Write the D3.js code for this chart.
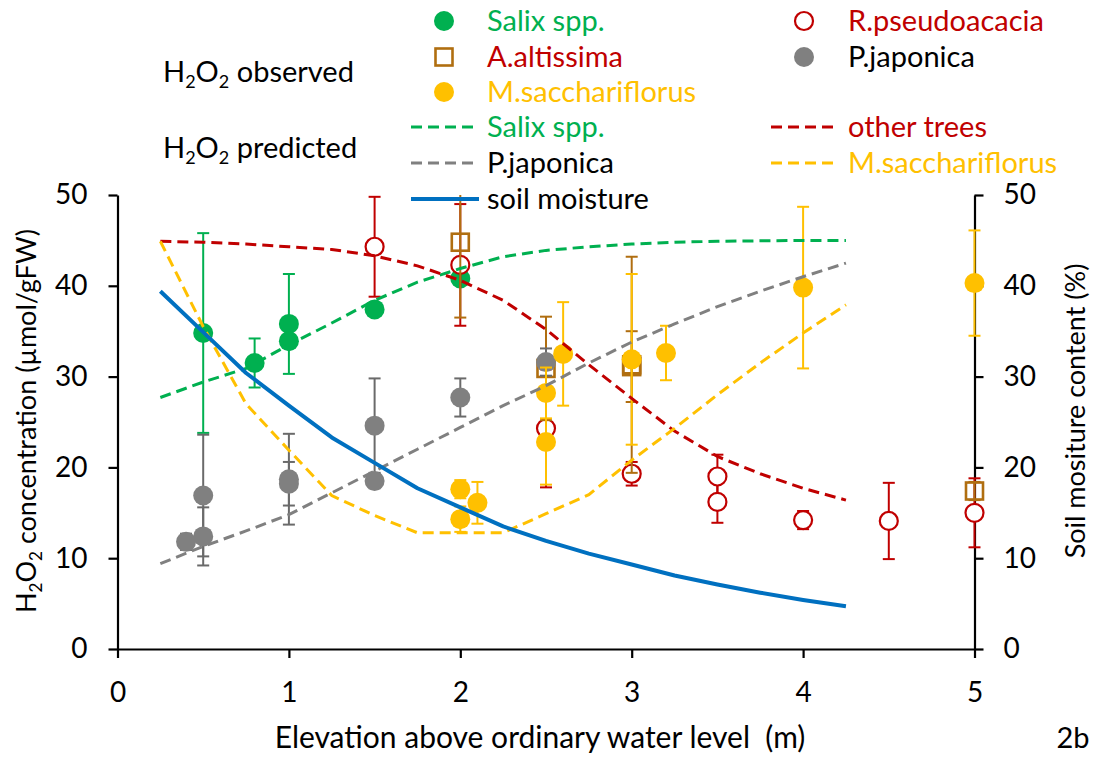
<!DOCTYPE html>
<html>
<head>
<meta charset="utf-8">
<script src="https://cdn.jsdelivr.net/npm/d3@7"></script>
<style>
  body { margin: 0; background: #fff; }
  svg { display: block; }
  text { font-family: Lato, "Open Sans", sans-serif; }
</style>
</head>
<body>
<svg id="chart" width="1097" height="765"></svg>
<script>
// ---- observed H2O2 (mean, error) by elevation ----
const salixX   = [0.5, 0.8, 1.0, 1.0, 1.5, 2.0];
const salixY   = [34.8, 31.5, 35.8, 33.9, 37.4, 40.8];
const salixErr = [11.0, 2.7, 5.5, 0.5, 0.6, 0.5];

const robiniaX   = [1.5, 2.0, 2.5, 3.0, 3.5, 3.5, 4.0, 4.5, 5.0];
const robiniaY   = [44.3, 42.3, 24.3, 19.3, 19.0, 16.2, 14.2, 14.1, 15.0];
const robiniaErr = [5.5, 6.7, 6.5, 1.3, 2.4, 2.3, 1.0, 4.2, 3.8];

const ailanthusX   = [2.0, 2.5, 3.0, 3.0, 5.0];
const ailanthusY   = [44.8, 30.9, 31.3, 31.1, 17.4];
const ailanthusErr = [8.3, 5.7, 11.9, 3.9, 1.0];

const japonicaX   = [0.4, 0.5, 0.5, 1.0, 1.0, 1.5, 1.5, 2.0, 2.5];
const japonicaY   = [11.8, 16.9, 12.4, 18.7, 18.2, 24.6, 18.5, 27.7, 31.6];
const japonicaErr = [0.9, 6.7, 3.2, 5.0, 2.4, 5.2, 0.8, 2.1, 1.5];

const miscanthusX   = [2.0, 2.0, 2.1, 2.5, 2.5, 2.6, 3.0, 3.2, 4.0, 5.0];
const miscanthusY   = [17.6, 14.3, 16.1, 28.2, 22.8, 32.5, 31.9, 32.6, 39.8, 40.3];
const miscanthusErr = [1.0, 1.4, 2.3, 2.8, 4.7, 5.7, 9.4, 3.0, 8.9, 5.8];

// ---- predicted H2O2 and soil moisture along the elevation gradient ----
const predX          = [0.25, 0.5, 0.75, 1.0, 1.25, 1.5, 1.75, 2.0, 2.25, 2.5, 2.75, 3.0, 3.25, 3.5, 3.75, 4.0, 4.25];
const salixPred      = [27.7, 29.4, 30.9, 33.5, 35.9, 38.4, 40.4, 41.9, 43.2, 43.9, 44.3, 44.6, 44.8, 44.9, 44.95, 45.0, 45.0];
const otherTreesPred = [44.9, 44.8, 44.6, 44.3, 44.0, 43.3, 42.2, 40.6, 38.4, 35.2, 31.3, 27.6, 24.0, 21.2, 19.3, 17.7, 16.4];
const japonicaPred   = [9.4, 11.3, 13.0, 14.8, 17.2, 19.6, 22.0, 24.4, 26.8, 29.0, 31.5, 33.8, 35.8, 37.7, 39.4, 41.0, 42.5];
const miscanthusPred = [44.9, 35.5, 27.0, 21.9, 16.9, 14.7, 12.8, 12.8, 12.8, 14.9, 17.0, 20.8, 24.3, 28.0, 31.5, 34.8, 37.9];
const soilMoisture   = [39.4, 34.9, 30.4, 26.8, 23.3, 20.5, 17.7, 15.6, 13.5, 11.9, 10.5, 9.3, 8.1, 7.1, 6.2, 5.4, 4.7];

const xTicks = [0, 1, 2, 3, 4, 5];
const yTicks = [0, 10, 20, 30, 40, 50];

const GREEN = "#00B050", RED = "#C00000", BROWN = "#B06E10",
      GRAY = "#808080", GRAY_BAR = "#6A6A6A", GOLD = "#FFC000", BLUE = "#0070C0";

const svg = d3.select("#chart");
const x = d3.scaleLinear().domain([0, 5]).range([117.5, 974.5]);
const y = d3.scaleLinear().domain([0, 50]).range([649, 195]);
const ySoil = d3.scaleLinear().domain([0, 50]).range([649, 195]);

// ---- axes ----
function styleAxis(g) {
  g.select(".domain").attr("stroke", "#000").attr("stroke-width", 2.2);
  g.selectAll(".tick line").attr("stroke", "#000").attr("stroke-width", 2.2);
  g.selectAll(".tick text").style("font-size", "28px").style("fill", "#000");
}
svg.append("g").attr("transform", "translate(117.5,0)")
  .call(d3.axisLeft(y).tickValues(yTicks).tickSize(9).tickSizeOuter(0).tickPadding(21))
  .call(styleAxis);
svg.append("g").attr("transform", "translate(974.5,0)")
  .call(d3.axisRight(ySoil).tickValues(yTicks).tickSize(9).tickSizeOuter(0).tickPadding(20))
  .call(styleAxis);
svg.append("g").attr("transform", "translate(0,649)")
  .call(d3.axisBottom(x).tickValues(xTicks).tickFormat(d3.format("d"))
    .tickSize(9).tickSizeOuter(0).tickPadding(24))
  .call(styleAxis);

// ---- axis titles ----
const leftTitle = svg.append("text")
  .attr("transform", "translate(36,421) rotate(-90)")
  .attr("text-anchor", "middle").style("font-size", "27px").style("fill", "#000");
leftTitle.append("tspan").text("H");
leftTitle.append("tspan").text("2").style("font-size", "17px").attr("dy", 6);
leftTitle.append("tspan").text("O").attr("dy", -6);
leftTitle.append("tspan").text("2").style("font-size", "17px").attr("dy", 6);
leftTitle.append("tspan").text(" concentration (\u00B5mol/gFW)").attr("dy", -6);

svg.append("text")
  .attr("transform", "translate(1085,411) rotate(-90)")
  .attr("text-anchor", "middle").style("font-size", "27px").style("fill", "#000")
  .text("Soil mositure content (%)");

svg.append("text").attr("x", 540).attr("y", 748).attr("text-anchor", "middle")
  .style("font-size", "30px").style("fill", "#000").style("white-space", "pre")
  .text("Elevation above ordinary water level  (m)");

svg.append("text").attr("x", 1073).attr("y", 748).attr("text-anchor", "middle")
  .style("font-size", "29px").style("fill", "#000").text("2b");

// ---- observed series with error bars ----
const plot = svg.append("g");

function errorBars(xs, ys, es, color) {
  const g = plot.append("g").attr("stroke", color).attr("stroke-width", 2);
  xs.forEach((xv, i) => {
    const top = Math.min(ys[i] + es[i], 50), bot = Math.max(ys[i] - es[i], 0);
    const cx = x(xv);
    g.append("line").attr("x1", cx).attr("x2", cx).attr("y1", y(top)).attr("y2", y(bot));
    if (ys[i] + es[i] <= 50)
      g.append("line").attr("x1", cx - 6).attr("x2", cx + 6).attr("y1", y(top)).attr("y2", y(top));
    g.append("line").attr("x1", cx - 6).attr("x2", cx + 6).attr("y1", y(bot)).attr("y2", y(bot));
  });
}
function filledCircles(xs, ys, color) {
  plot.append("g").selectAll("circle").data(xs).join("circle")
    .attr("cx", d => x(d)).attr("cy", (d, i) => y(ys[i])).attr("r", 10).attr("fill", color);
}
function openCircles(xs, ys, color) {
  plot.append("g").selectAll("circle").data(xs).join("circle")
    .attr("cx", d => x(d)).attr("cy", (d, i) => y(ys[i])).attr("r", 9)
    .attr("fill", "#fff").attr("stroke", color).attr("stroke-width", 2.2);
}
function openSquares(xs, ys, color) {
  plot.append("g").selectAll("rect").data(xs).join("rect")
    .attr("x", d => x(d) - 8.5).attr("y", (d, i) => y(ys[i]) - 8.5)
    .attr("width", 17).attr("height", 17)
    .attr("fill", "none").attr("stroke", color).attr("stroke-width", 2.6);
}

errorBars(salixX, salixY, salixErr, GREEN);
filledCircles(salixX, salixY, GREEN);
errorBars(robiniaX, robiniaY, robiniaErr, RED);
openCircles(robiniaX, robiniaY, RED);
errorBars(ailanthusX, ailanthusY, ailanthusErr, BROWN);
openSquares(ailanthusX, ailanthusY, BROWN);
errorBars(japonicaX, japonicaY, japonicaErr, GRAY_BAR);
filledCircles(japonicaX, japonicaY, GRAY);
errorBars(miscanthusX, miscanthusY, miscanthusErr, GOLD);
filledCircles(miscanthusX, miscanthusY, GOLD);

// ---- predicted curves ----
const line = d3.line().x((d, i) => x(predX[i])).y(d => y(d));
const lineSoil = d3.line().x((d, i) => x(predX[i])).y(d => ySoil(d));
function dashed(vals, color) {
  plot.append("path").datum(vals).attr("d", line).attr("fill", "none")
    .attr("stroke", color).attr("stroke-width", 3).attr("stroke-dasharray", "11,6");
}
dashed(salixPred, GREEN);
dashed(otherTreesPred, RED);
dashed(japonicaPred, GRAY);
dashed(miscanthusPred, GOLD);
plot.append("path").datum(soilMoisture).attr("d", lineSoil).attr("fill", "none")
  .attr("stroke", BLUE).attr("stroke-width", 4).attr("stroke-linejoin", "round");

// ---- legend ----
const leg = svg.append("g").style("font-size", "29px");
function h2o2Label(tx, ty, word) {
  const t = leg.append("text").attr("x", tx).attr("y", ty).style("fill", "#000");
  t.append("tspan").text("H");
  t.append("tspan").text("2").style("font-size", "18px").attr("dy", 6);
  t.append("tspan").text("O").attr("dy", -6);
  t.append("tspan").text("2").style("font-size", "18px").attr("dy", 6);
  t.append("tspan").text(" " + word).attr("dy", -6);
}
h2o2Label(163, 82, "observed");
h2o2Label(163, 158, "predicted");

function legText(tx, ty, label, color) {
  leg.append("text").attr("x", tx).attr("y", ty + 10).style("fill", color).text(label);
}
// marker entries
leg.append("circle").attr("cx", 444).attr("cy", 21).attr("r", 10).attr("fill", GREEN);
legText(487, 21, "Salix spp.", GREEN);
leg.append("rect").attr("x", 435.5).attr("y", 48.5).attr("width", 17).attr("height", 17)
  .attr("fill", "none").attr("stroke", BROWN).attr("stroke-width", 2.6);
legText(487, 57, "A.altissima", RED);
leg.append("circle").attr("cx", 444).attr("cy", 92).attr("r", 10).attr("fill", GOLD);
legText(487, 92, "M.sacchariflorus", GOLD);
leg.append("circle").attr("cx", 804).attr("cy", 21).attr("r", 9)
  .attr("fill", "#fff").attr("stroke", RED).attr("stroke-width", 2.2);
legText(848, 21, "R.pseudoacacia", RED);
leg.append("circle").attr("cx", 804).attr("cy", 57).attr("r", 10).attr("fill", GRAY);
legText(848, 57, "P.japonica", "#000");

// line entries
function legLine(x1, ly, color, dashedLine) {
  const l = leg.append("line").attr("x1", x1).attr("x2", x1 + 68).attr("y1", ly).attr("y2", ly)
    .attr("stroke", color).attr("stroke-width", dashedLine ? 3 : 4);
  if (dashedLine) l.attr("stroke-dasharray", "11,6");
}
legLine(411, 127, GREEN, true);  legText(487, 127, "Salix spp.", GREEN);
legLine(771, 127, RED, true);    legText(848, 127, "other trees", RED);
legLine(411, 163, GRAY, true);   legText(487, 163, "P.japonica", "#000");
legLine(771, 163, GOLD, true);   legText(848, 163, "M.sacchariflorus", GOLD);
legLine(411, 199, BLUE, false);  legText(487, 199, "soil moisture", "#000");
</script>
</body>
</html>
